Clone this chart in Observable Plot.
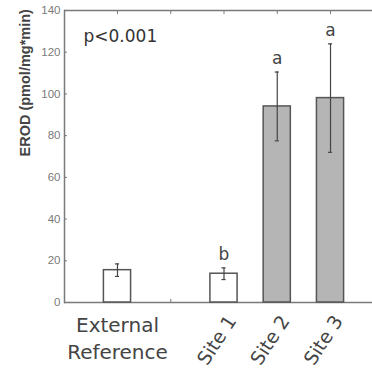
<!DOCTYPE html>
<html><head><meta charset="utf-8">
<script src="https://cdn.jsdelivr.net/npm/d3@7"></script>
<script src="https://cdn.jsdelivr.net/npm/@observablehq/plot@0.6"></script>
<style>html,body{margin:0;padding:0;background:#fff;overflow:hidden}</style>
</head><body><div id="chart"></div>
<script>
// Category slots on the x axis (one empty slot between reference and sites)
const categories = ["External", "gap", "Site 1", "Site 2", "Site 3"];
const referenceLabel = ["External\nReference"];
const siteLabels = ["Site 1", "Site 2", "Site 3"];
// Bars
const barCategories = ["External", "Site 1", "Site 2", "Site 3"];
const groups = ["reference", "reference", "site", "site"];
const erod = [15.5, 13.8, 94, 98];
const errors = [3, 2.8, 16.5, 26];
const letters = ["", "b", "a", "a"];
const yTicks = [0, 20, 40, 60, 80, 100, 120, 140];
const yLabel = ["EROD (pmol/mg*min)"];
const annotation = ["p<0.001"];

const data = barCategories.map((c, i) => ({cat: c, v: erod[i], e: errors[i], group: groups[i], letter: letters[i]}));

const plot = Plot.plot({
  width: 372, height: 369,
  marginLeft: 64, marginRight: 0, marginTop: 10, marginBottom: 67,
  style: {fontFamily: "DejaVu Sans", background: "#fff"},
  x: {type: "band", domain: categories, range: [64, 383], paddingInner: 0.49, paddingOuter: 0.74, align: 0.5, round: false, axis: null},
  y: {domain: [0, 140], axis: null},
  color: {domain: ["reference", "site"], range: ["#ffffff", "#b5b5b5"]},
  marks: [
    Plot.ruleY([0, 140], {stroke: "#7a7a7a", strokeWidth: 1.5}),
    Plot.frame({anchor: "left", stroke: "#7a7a7a", strokeWidth: 1.5}),
    Plot.axisY({anchor: "left", ticks: yTicks, tickSize: 3, dx: 3, text: null, label: null, stroke: "#7a7a7a"}),
    Plot.axisY({anchor: "left", ticks: yTicks, tickSize: 0, tickPadding: 4, label: null, fontSize: 11.5, color: "#7a7a7a", fontFamily: "Liberation Sans"}),
    Plot.axisX({anchor: "top", tickSize: 3, dy: 3, text: null, label: null, stroke: "#7a7a7a"}),
    Plot.axisX({anchor: "bottom", tickSize: 3, dy: -3, text: null, label: null, stroke: "#7a7a7a"}),
    Plot.barY(data, {x: "cat", y: "v", fill: "group", stroke: "#555", strokeWidth: 1.5}),
    Plot.ruleX(data, {x: "cat", y1: d => d.v - d.e, y2: d => d.v + d.e, stroke: "#444", strokeWidth: 1.2}),
    Plot.tickY(data, {x: "cat", y: d => d.v + d.e, insetLeft: 11.5, insetRight: 11.5, stroke: "#444", strokeWidth: 1.2}),
    Plot.tickY(data, {x: "cat", y: d => d.v - d.e, insetLeft: 11.5, insetRight: 11.5, stroke: "#444", strokeWidth: 1.2}),
    Plot.text(data.filter(d => d.letter), {x: "cat", y: d => d.v + d.e, text: "letter", dy: -8, lineAnchor: "bottom", fontSize: 17, fill: "#444"}),
    Plot.text(yLabel, {frameAnchor: "left", dx: -39, rotate: -90, fontSize: 14.5, fontWeight: "bold", fontFamily: "Liberation Sans", fill: "#444"}),
    Plot.text(annotation, {frameAnchor: "top-left", dx: 19, dy: 19, lineAnchor: "top", textAnchor: "start", fontSize: 17, fill: "#333"}),
    Plot.text(referenceLabel, {x: () => categories[0], frameAnchor: "bottom", lineAnchor: "top", dy: 10, fontSize: 20, lineHeight: 1.35, fill: "#444"}),
    Plot.text(siteLabels, {x: d => d, frameAnchor: "bottom", rotate: -57, textAnchor: "end", lineAnchor: "middle", dx: 8, dy: 15, fontSize: 19, fill: "#444"})
  ]
});
document.getElementById("chart").appendChild(plot);
</script>
</body></html>
